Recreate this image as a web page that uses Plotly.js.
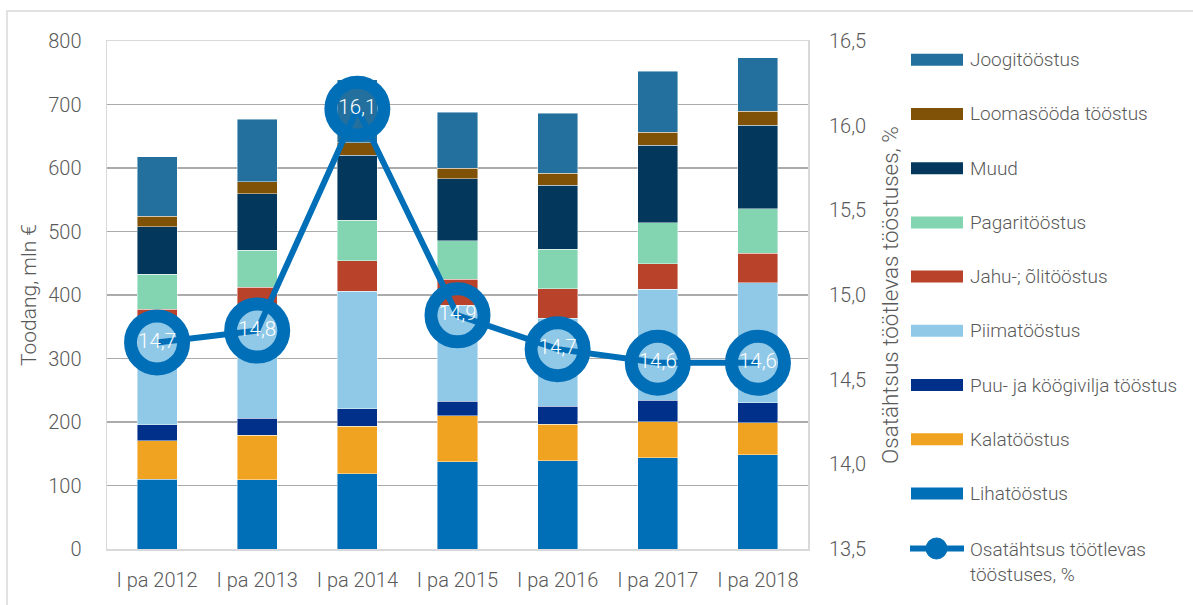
<!DOCTYPE html>
<html>
<head>
<meta charset="utf-8">
<script src="https://cdn.plot.ly/plotly-3.0.1.min.js"></script>
<style>
  html, body { margin: 0; padding: 0; background: #ffffff; }
  #chart { width: 1193px; height: 605px; }
</style>
</head>
<body>
<div id="chart"></div>
<script>
// ---------- data ----------
const categories = ['I pa 2012', 'I pa 2013', 'I pa 2014', 'I pa 2015', 'I pa 2016', 'I pa 2017', 'I pa 2018'];

const lihatoostus   = [110.0, 109.0, 118.6, 137.5, 138.6, 143.8, 148.5];
const kalatoostus   = [ 60.6,  70.0,  75.1,  72.5,  57.7,  56.7,  50.5];
const puuKoogivilja = [ 25.2,  26.8,  27.3,  23.0,  28.4,  34.1,  31.0];
const piimatoostus  = [169.2, 174.2, 184.8, 151.0, 138.6, 174.8, 189.4];
const jahuOli       = [ 12.5,  32.0,  48.2,  41.2,  46.7,  39.9,  46.6];
const pagaritoostus = [ 55.1,  58.3,  63.6,  60.4,  62.0,  64.6,  70.0];
const muud          = [ 75.0,  89.3, 102.4,  97.6, 101.2, 121.8, 131.0];
const loomasooda    = [ 16.8,  18.9,  20.0,  16.3,  18.4,  20.5,  22.0];
const joogitoostus  = [ 93.4,  98.1,  98.6,  88.2,  95.0,  96.0,  84.7];

const osatahtsus    = [14.72, 14.79, 16.10, 14.88, 14.68, 14.60, 14.60];

// stacking order bottom -> top
const seriesNames = ['Lihatööstus', 'Kalatööstus', 'Puu- ja köögivilja tööstus', 'Piimatööstus',
                     'Jahu-; õlitööstus', 'Pagaritööstus', 'Muud', 'Loomasööda tööstus', 'Joogitööstus'];
const seriesValues = [lihatoostus, kalatoostus, puuKoogivilja, piimatoostus, jahuOli,
                      pagaritoostus, muud, loomasooda, joogitoostus];
const seriesColors = ['#006fb7', '#f0a221', '#00308a', '#90c8e7', '#b9432a',
                      '#83d4b0', '#03385c', '#7f5208', '#23709f'];
const lineName = 'Osatähtsus töötlevas tööstuses, %';
const lineColor = '#006fb7';

// ---------- layout helpers (pixel -> paper) ----------
const W = 1193, H = 605;
const PL = 107, PR = 808, PT = 41, PB = 549;
const fx = px => (px - PL) / (PR - PL);
const fy = py => (PB - py) / (PB - PT);

const FONT = 'Roboto, "Open Sans", sans-serif';
const GREY = '#595959';

// ---------- traces ----------
const traces = seriesNames.map((name, i) => ({
  type: 'bar',
  name: name,
  x: categories,
  y: seriesValues[i],
  marker: { color: seriesColors[i], line: { color: 'rgba(255,255,255,0.55)', width: 0.8 } },
  hoverinfo: 'name+y',
  showlegend: false
}));

traces.push({
  type: 'scatter',
  mode: 'lines+markers+text',
  name: lineName,
  x: categories,
  y: osatahtsus,
  yaxis: 'y2',
  line: { color: lineColor, width: 6 },
  marker: { size: 53, color: 'rgba(0,0,0,0)', line: { color: lineColor, width: 13 } },
  texttemplate: '%{y:.1f}',
  textposition: 'middle center',
  textfont: { family: FONT, size: 20.5, color: '#ffffff', weight: 300 },
  cliponaxis: false,
  showlegend: false
});

// ---------- manual legend ----------
const shapes = [];
const annotations = [];
const legendOrder = seriesNames.map((n, i) => i).reverse();
legendOrder.forEach((si, k) => {
  const yc = 59.8 + 54.2 * k;
  shapes.push({
    type: 'rect', xref: 'paper', yref: 'paper',
    x0: fx(911), x1: fx(963), y0: fy(yc - 6), y1: fy(yc + 6),
    fillcolor: seriesColors[si], line: { width: 0 }
  });
  annotations.push({
    xref: 'paper', yref: 'paper', x: fx(968), y: fy(yc),
    xanchor: 'left', yanchor: 'middle', showarrow: false,
    text: seriesNames[si],
    font: { family: FONT, size: 19, color: GREY, weight: 300 }
  });
});
const ylc = 548.5;
shapes.push({
  type: 'line', xref: 'paper', yref: 'paper',
  x0: fx(910), x1: fx(964), y0: fy(ylc), y1: fy(ylc),
  line: { color: lineColor, width: 6 }
});
shapes.push({
  type: 'circle', xref: 'paper', yref: 'paper',
  x0: fx(926), x1: fx(947), y0: fy(ylc - 10.5), y1: fy(ylc + 10.5),
  fillcolor: lineColor, line: { color: lineColor, width: 1 }
});
annotations.push({
  xref: 'paper', yref: 'paper', x: fx(968), y: fy(536),
  xanchor: 'left', yanchor: 'top', align: 'left', showarrow: false,
  text: 'Osatähtsus töötlevas<br>tööstuses, %',
  font: { family: FONT, size: 19, color: GREY, weight: 300 }
});

// outer frame
shapes.push({
  type: 'rect', xref: 'paper', yref: 'paper', layer: 'below',
  x0: fx(7), x1: fx(W + 20), y0: fy(11), y1: fy(H + 20),
  line: { color: '#d9d9d9', width: 1.5 }, fillcolor: 'rgba(0,0,0,0)'
});

const layout = {
  width: W, height: H,
  margin: { l: PL, r: W - PR, t: PT, b: H - PB, pad: 0 },
  paper_bgcolor: '#ffffff', plot_bgcolor: '#ffffff',
  separators: ', ',
  barmode: 'stack',
  bargap: 0.6,
  showlegend: false,
  font: { family: FONT, size: 20, color: GREY, weight: 300 },
  xaxis: {
    type: 'category',
    range: [-0.5, 6.5],
    showgrid: false,
    showline: true, mirror: true, linecolor: '#d9d9d9', linewidth: 1.5,
    ticks: '', ticklabelstandoff: 12,
    tickfont: { family: FONT, size: 20, color: GREY, weight: 300 },
    automargin: false
  },
  yaxis: {
    range: [0, 800], dtick: 100, tick0: 0,
    showgrid: true, gridcolor: '#ababab', gridwidth: 1.5,
    zeroline: false,
    showline: true, mirror: true, linecolor: '#d9d9d9', linewidth: 1.5,
    ticks: '', ticklabelstandoff: 20,
    tickfont: { family: FONT, size: 20, color: GREY, weight: 300 },
    title: { text: 'Toodang, mln €', font: { family: FONT, size: 21, color: GREY, weight: 300 }, standoff: 6 },
    automargin: false
  },
  yaxis2: {
    overlaying: 'y', side: 'right',
    range: [13.5, 16.5], dtick: 0.5, tick0: 13.5,
    tickformat: '.1f',
    showgrid: false, zeroline: false, showline: false,
    ticks: '', ticklabelstandoff: 20,
    tickfont: { family: FONT, size: 20, color: GREY, weight: 300 },
    title: { text: lineName, font: { family: FONT, size: 22.5, color: GREY, weight: 300 }, standoff: 17 },
    automargin: false
  },
  shapes: shapes,
  annotations: annotations
};

Plotly.newPlot('chart', traces, layout, { displayModeBar: false, staticPlot: true });
</script>
</body>
</html>
